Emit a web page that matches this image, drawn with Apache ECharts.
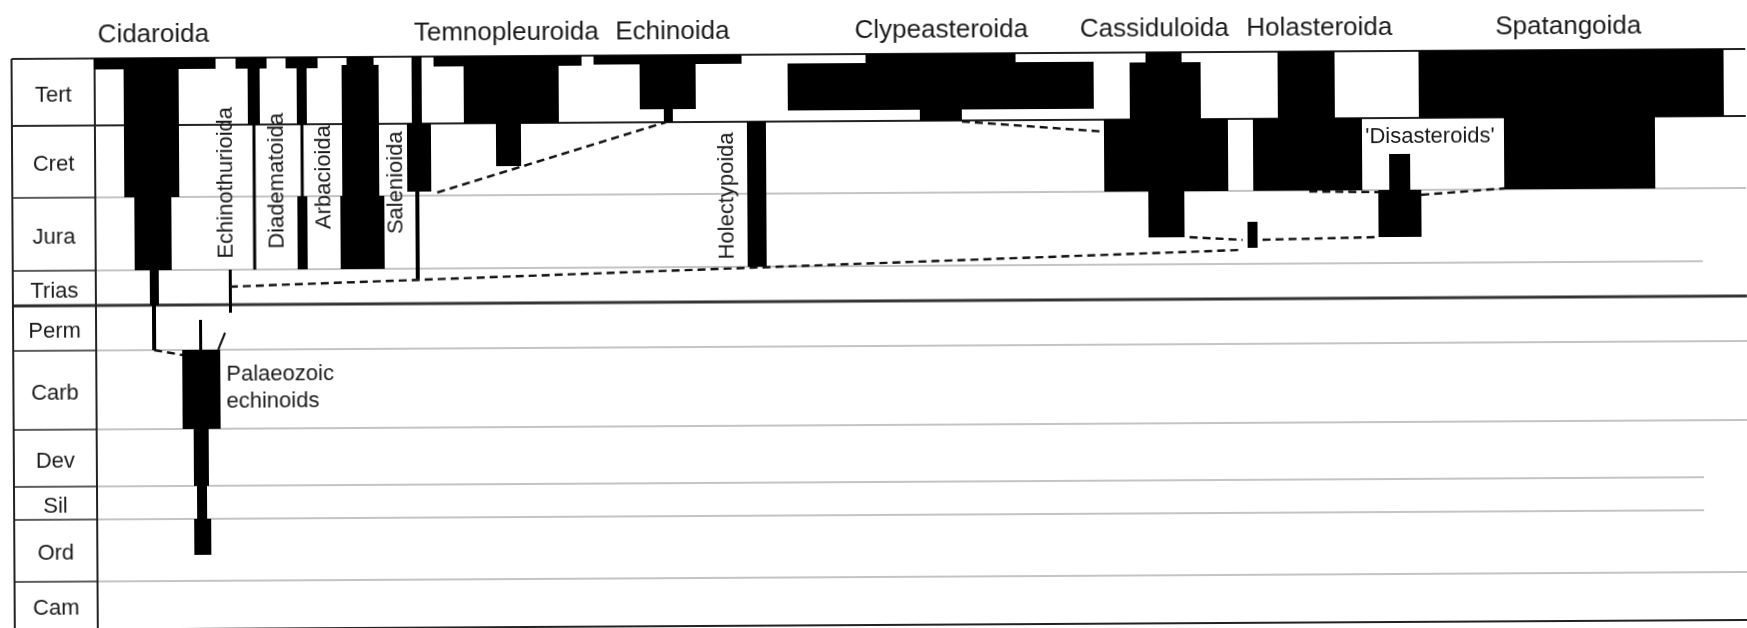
<!DOCTYPE html>
<html>
<head>
<meta charset="utf-8">
<script src="https://cdn.jsdelivr.net/npm/echarts@6/dist/echarts.min.js"></script>
<style>
html,body{margin:0;padding:0;background:#fff;overflow:hidden}
#c{width:1747px;height:628px;transform:rotate(-0.33deg);transform-origin:50% 50%}
</style>
</head>
<body>
<div id="c"></div>
<script>
// ---- time scale (stratigraphic position of period boundaries, top = youngest) ----
const periods = ['Tert','Cret','Jura','Trias','Perm','Carb','Dev','Sil','Ord','Cam'];
const periodBounds = [0, 67, 139, 212, 247, 292, 371, 428, 461, 523, 571];
const strongBounds = [0, 1, 4, 10];   // indices drawn as heavy rules
const shortBounds = [3, 7, 8];        // rules that stop short of the right edge

// ---- spindles: [left, right, top, bottom] in diagram units ----
const cidaroida = [[82,204,0,11],[112,167,0,139],[122,159,139,212],[137,146,212,247],[139,143,247,292]];
const echinothurioida = [[216,219,212,255]];
const palaeozoic = [[186,189,262,292],[169,207,292,371],[180,195,371,428],[183,193,428,461],[180,197,461,497]];
const diadematoida = [[224,255,0,11],[236,248,0,67],[240.5,243.5,67,212]];
const arbacioida = [[274,306,0,11],[285,295,0,67],[288.5,291.5,67,139],[285,295,139,212]];
const phymosomatoida = [[335,362,0,8],[330,367,8,139],[328,372,139,212]];
const salenioida = [[400,410,0,67],[395,419,67,135],[403,407,135,222]];
const temnopleuroida = [[422,570,0,10],[452,547,0,67],[484,509,67,110]];
const echinoida = [[582,730,0,9],[628,684,0,54],[652,661,54,67]];
const holectypoida = [[735,754,67,212]];
const clypeasteroida = [[854,1004,0,10],[776,1082,9,56],[908,950,56,67]];
const cassiduloida = [[1134,1170,0,10],[1118,1189,10,67],[1092,1216,67,139],[1136,1172,139,185]];
const jurassicStem = [[1235,1245,170,196]];
const holasteroida = [[1266,1323,0,67],[1241,1350,67,139]];
const disasteroids = [[1377,1398,103,139],[1366,1409,139,186]];
const spatangoida = [[1407,1712,0,67],[1492,1643,67,139]];

// ---- ancestry links: [x1, y1, x2, y2] ----
const dashedLinks = [
  [141,292,169,297],
  [217,229,1230,198],
  [425,136,654,67],
  [950,68,1092,79],
  [1177,185,1230,188],
  [1250,188,1366,186],
  [1297,140,1366,141],
  [1409,144,1492,138]
];
const solidLinks = [[212,275,205,292]];

// ---- labels ----
const cladeTitles = ['Cidaroida','Temnopleuroida','Echinoida','Clypeasteroida','Cassiduloida','Holasteroida','Spatangoida'];
const cladeTitleX = [142, 495, 661, 930, 1143, 1308, 1557];
const verticalNames = ['Echinothurioida','Diadematoida','Arbacioida','Salenioida','Holectypoida'];
const verticalX = [214, 265, 312, 384, 715];
const verticalY = [125, 123.5, 120, 126, 141];
const noteTexts = ['Palaeozoic\nechinoids', "'Disasteroids'"];
const noteX = [213, 1418];
const noteY = [330.5, 86];

// ---- layout ----
const colWidth = 83, plotEnd = 1734, shortEnd = 1690, titleRow = -23.5;
const FONT = "'Liberation Sans', Arial, Helvetica, sans-serif";
const INK = '#1a1a1a';

const allBlocks = [].concat(cidaroida, echinothurioida, palaeozoic, diadematoida, arbacioida,
  phymosomatoida, salenioida, temnopleuroida, echinoida, holectypoida, clypeasteroida,
  cassiduloida, jurassicStem, holasteroida, disasteroids, spatangoida);

function seg(api, x0, y0, x1, y1, stroke, w, dash) {
  const a = api.coord([x0, y0]), b = api.coord([x1, y1]);
  return {type:'line', shape:{x1:a[0], y1:a[1], x2:b[0], y2:b[1]},
          style:{stroke:stroke, lineWidth:w, lineDash:dash || null, fill:null}};
}

const chart = echarts.init(document.getElementById('c'), null, {renderer:'canvas'});
chart.setOption({
  animation:false,
  backgroundColor:'#fff',
  grid:{left:13, top:54, width:1734, height:571},
  xAxis:{type:'value', min:0, max:plotEnd, show:false},
  yAxis:{type:'value', min:0, max:periodBounds[periodBounds.length-1], inverse:true, show:false},
  series:[
    { // frame: period rules and column borders
      type:'custom', z:1, silent:true, clip:false,
      data:[[0,0]],
      renderItem:function(params, api){
        const children = [];
        periodBounds.forEach(function(b, i){
          const strong = strongBounds.indexOf(i) >= 0;
          const end = shortBounds.indexOf(i) >= 0 ? shortEnd : plotEnd;
          children.push(seg(api, 0, b, colWidth, b, '#2a2a2a', strong ? (i===4 ? 3 : 2) : 1.6));
          if (strong) children.push(seg(api, colWidth, b, plotEnd, b, i===4 ? '#333' : '#222', i===4 ? 3 : 2));
          else children.push(seg(api, colWidth, b, end, b, '#b0b0b0', 1.3));
        });
        const bottom = periodBounds[periodBounds.length-1];
        children.push(seg(api, 0, 0, 0, bottom, '#222', 2));
        children.push(seg(api, colWidth, 0, colWidth, bottom, '#222', 2));
        return {type:'group', children:children};
      }
    },
    { // spindles
      type:'custom', z:2, silent:true, clip:false,
      data:allBlocks,
      renderItem:function(params, api){
        const p0 = api.coord([api.value(0), api.value(2)]);
        const p1 = api.coord([api.value(1), api.value(3)]);
        return {type:'rect', shape:{x:p0[0], y:p0[1], width:p1[0]-p0[0], height:p1[1]-p0[1]},
                style:{fill:'#000'}};
      }
    },
    { // dashed ancestry links
      type:'custom', z:3, silent:true, clip:false,
      data:dashedLinks,
      renderItem:function(params, api){
        return seg(api, api.value(0), api.value(1), api.value(2), api.value(3), '#111', 2.4, [8, 5]);
      }
    },
    { // solid links
      type:'custom', z:3, silent:true, clip:false,
      data:solidLinks,
      renderItem:function(params, api){
        return seg(api, api.value(0), api.value(1), api.value(2), api.value(3), '#111', 2);
      }
    },
    { // period names
      type:'custom', z:4, silent:true, clip:false,
      data:periods.map(function(p, i){ return [colWidth/2, (periodBounds[i]+periodBounds[i+1])/2]; }),
      renderItem:function(params, api){
        const p = api.coord([api.value(0), api.value(1)]);
        return {type:'text', x:p[0], y:p[1]+3,
                style:{text:periods[params.dataIndex], fontSize:22, fontFamily:FONT, fill:INK,
                       align:'center', verticalAlign:'middle'}};
      }
    },
    { // clade titles
      type:'custom', z:4, silent:true, clip:false,
      data:cladeTitleX.map(function(x){ return [x, titleRow]; }),
      renderItem:function(params, api){
        const p = api.coord([api.value(0), api.value(1)]);
        return {type:'text', x:p[0], y:p[1],
                style:{text:cladeTitles[params.dataIndex], fontSize:26, fontFamily:FONT, fill:INK,
                       align:'center', verticalAlign:'middle'}};
      }
    },
    { // vertical names
      type:'custom', z:4, silent:true, clip:false,
      data:verticalX.map(function(x, i){ return [x, verticalY[i]]; }),
      renderItem:function(params, api){
        const p = api.coord([api.value(0), api.value(1)]);
        return {type:'text', x:p[0], y:p[1], rotation:Math.PI/2,
                style:{text:verticalNames[params.dataIndex], fontSize:22, fontFamily:FONT, fill:INK,
                       align:'center', verticalAlign:'middle'}};
      }
    },
    { // notes
      type:'custom', z:4, silent:true, clip:false,
      data:noteX.map(function(x, i){ return [x, noteY[i]]; }),
      renderItem:function(params, api){
        const p = api.coord([api.value(0), api.value(1)]);
        const i = params.dataIndex;
        return {type:'text', x:p[0], y:p[1],
                style:{text:noteTexts[i], fontSize:22, lineHeight:27, fontFamily:FONT, fill:INK,
                       align: i === 0 ? 'left' : 'center', verticalAlign:'middle'}};
      }
    }
  ]
});
</script>
</body>
</html>
